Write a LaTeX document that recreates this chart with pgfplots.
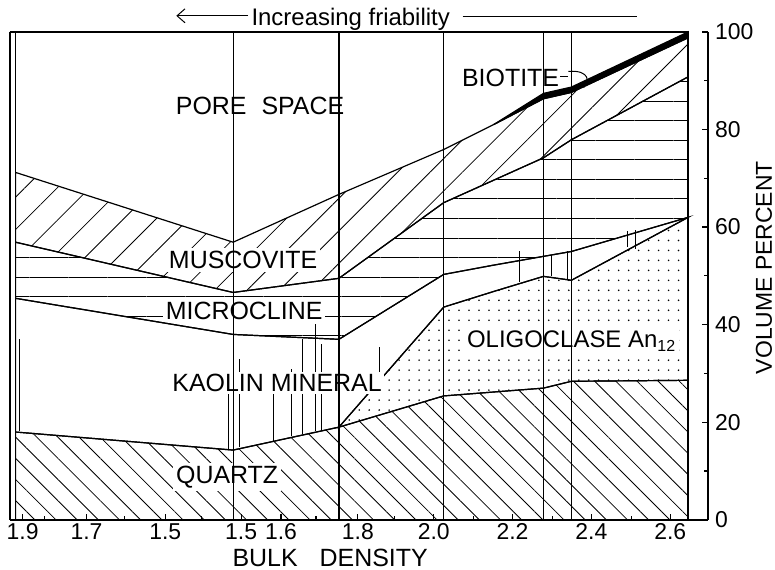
\documentclass[border=0pt]{standalone}
\usepackage{pgfplots}
\pgfplotsset{compat=1.18}
\usepackage{fontspec}
\setmainfont{Liberation Sans}
\usetikzlibrary{patterns.meta,arrows.meta}
\newcommand{\lab}{\fontsize{12.5}{14}\selectfont}
\begin{document}
\begin{tikzpicture}
\begin{axis}[
  scale only axis, width=350pt, height=244.5pt,
  xmin=8, xmax=708, ymin=0, ymax=100,
  axis x line*=bottom, axis y line*=right,
  axis line style={-, line width=0.9pt},
  xtick={21,85,164,240,280,357,433,512,591,670},
  xticklabels={1.9,1.7,1.5,1.5,1.6,1.8,2.0,2.2,2.4,2.6},
  minor xtick={43,123,200,315,394,473,552,631},
  ytick={0,20,40,60,80,100}, minor ytick={10,30,50,70,90},
  tick align=inside, major tick length=3pt, minor tick length=2pt,
  tick style={black, line width=0.6pt},
  ticklabel style={font=\fontsize{11.5}{13}\selectfont},
  xticklabel style={yshift=1.5pt},
  /pgf/number format/assume math mode=true,
  clip=false,
]
% Quartz
\addplot[draw=black, line width=0.6pt, pattern={Lines[angle=-45,distance=7.5pt,line width=0.4pt]}]
 coordinates {(14,0) (688,0) (688,28.6) (571,28.4) (543,27.0) (493,26.2) (443,25.4) (338,19.0) (232,14.3) (14,18.0)} --cycle;
% Oligoclase An12
\addplot[draw=black, line width=0.6pt, pattern={Dots[distance=5pt,radius=0.45pt]}]
 coordinates {(338,19.0) (443,25.4) (493,26.2) (543,27.0) (571,28.4) (688,28.6) (688,62.0) (571,49.1) (543,49.9) (493,46.8) (443,43.6)} --cycle;
% Kaolin mineral
\addplot[draw=black, line width=0.6pt]
 coordinates {(14,18.0) (232,14.3) (338,19.0) (443,43.6) (493,46.8) (543,49.9) (571,49.1) (688,62.0) (571,55.0) (543,54.0) (493,52.2) (443,50.3) (338,37.0) (232,38.0) (14,45.4)} --cycle;
% Microcline
\addplot[draw=black, line width=0.6pt, pattern={Lines[angle=0,distance=9.78pt,line width=0.4pt]}]
 coordinates {(14,45.4) (232,38.0) (338,37.0) (443,50.3) (493,52.2) (543,54.0) (571,55.0) (688,62.0) (688,90.8) (571,77.9) (543,74.2) (493,69.6) (443,65.0) (338,49.5) (232,46.6) (14,56.9)} --cycle;
% Muscovite
\addplot[draw=black, line width=0.6pt, pattern={Lines[angle=45,distance=11.5pt,line width=0.4pt]}]
 coordinates {(14,56.9) (232,46.6) (338,49.5) (443,65.0) (493,69.6) (543,74.2) (571,77.9) (688,90.8) (688,98.8) (571,87.6) (543,86.3) (493,81.0) (443,75.9) (338,66.7) (232,56.9) (14,71.2)} --cycle;
% Biotite
\addplot[draw=black, line width=0.6pt, fill=black]
 coordinates {(493,81.0) (543,86.3) (571,87.6) (688,98.8) (688,100) (571,88.7) (543,87.4)} --cycle;
% Kaolin hatch (vertical strokes)
\addplot[black, line width=0.45pt, unbounded coords=jump] coordinates {
 (18,18.2) (18,37.0) (18,nan)
 (227,14.5) (227,28.8) (227,nan)
 (238,14.9) (238,32.9) (238,nan)
 (272,16.2) (272,26.8) (272,nan)
 (290,17.2) (290,30.9) (290,nan)
 (301,17.6) (301,37.0) (301,nan)
 (314,18.2) (314,40.1) (314,nan)
 (320,18.2) (320,36.0) (320,nan)
 (379,28.6) (379,35.4) (379,nan)
 (519,48.7) (519,55.0) (519,nan)
 (551,49.9) (551,54.2) (551,nan)
 (567,49.3) (567,55.2) (567,nan)
 (627,56.0) (627,59.1) (627,nan)
 (635,55.6) (635,59.5)};
% labels
\node[font=\lab] at (axis cs:259,84.9) {PORE\hspace{4pt} SPACE};
\node[font=\lab, fill=white, inner sep=1.5pt] at (axis cs:242,53.2) {MUSCOVITE};
\node[font=\lab, fill=white, inner sep=1.5pt] at (axis cs:243,42.9) {MICROCLINE};
\node[font=\lab, fill=white, inner sep=1pt] at (axis cs:276,28.0) {KAOLIN MINERAL};
\node[font=\fontsize{12}{14}\selectfont, fill=white, inner sep=1.5pt, anchor=west] at (axis cs:463,36.6) {OLIGOCLASE An\textsubscript{12}};
\node[font=\lab, fill=white, inner sep=1.5pt] at (axis cs:226,8.8) {QUARTZ};
\node[font=\lab] at (axis cs:510,90.6) {BIOTITE};
\draw[line width=0.5pt] (axis cs:560,90.8) -- (axis cs:568,90.8);
\draw[line width=0.5pt, -{Stealth[length=3pt,width=2.5pt]}] (axis cs:568,91.9) .. controls (axis cs:590,92.3) and (axis cs:590,89.4) .. (axis cs:578,88.8);
% sample lines
\addplot[black, line width=0.6pt, unbounded coords=jump] coordinates {
 (232,0) (232,100) (232,nan) (338,0) (338,100) (338,nan) (443,0) (443,100) (443,nan)
 (543,0) (543,100) (543,nan) (571,0) (571,100)};
\addplot[black, line width=1pt] coordinates {(688,0) (688,100)};
% frame
\draw[line width=1pt] (axis cs:8,100) -- (axis cs:688,100);
\draw[line width=1pt] (axis cs:8,0) -- (axis cs:8,100);
\draw[line width=0.7pt] (axis cs:14,0) -- (axis cs:14,100);
% friability arrow
\draw[line width=0.5pt, -{Straight Barb[length=4pt,width=7pt]}] (axis cs:247,103.3) -- (axis cs:175,103.3);
\node[font=\fontsize{12}{14}\selectfont, anchor=base west, inner sep=0pt] at (axis cs:250,101.4) {Increasing friability};
\draw[line width=0.5pt] (axis cs:462,103.1) -- (axis cs:637,103.1);
% axis titles
\node[font=\lab, anchor=west, inner sep=0pt] at (axis cs:231,-7.8) {BULK\hspace{11pt}DENSITY};
\node[font=\fontsize{11.5}{13}\selectfont, rotate=90, inner sep=0pt] at (axis cs:764,51.7) {VOLUME PERCENT};
% bounding box
\path (axis cs:0,106.54) rectangle (axis cs:775,-10.22);
\end{axis}
\end{tikzpicture}
\end{document}
